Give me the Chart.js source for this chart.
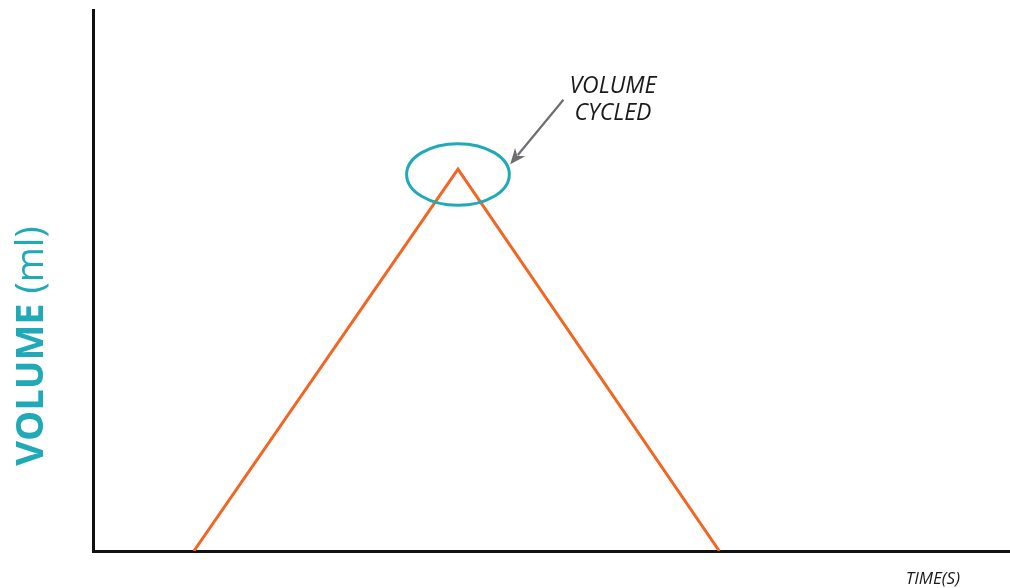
<!DOCTYPE html>
<html>
<head>
<meta charset="utf-8">
<script src="https://cdn.jsdelivr.net/npm/chart.js@4/dist/chart.umd.min.js"></script>
<style>
  html, body { margin: 0; padding: 0; background: #fff; }
  #wrap { width: 1010px; height: 588px; position: relative; }
</style>
</head>
<body>
<div id="wrap"><canvas id="chart"></canvas></div>
<script>
// data (time in s, volume in ml - arbitrary units)
const times = [1.1, 3.98, 6.83];
const volumes = [0, 7.06, 0];
const xMax = 10;
const yMax = 10;

// annotation: ellipse around the peak and the arrow pointing at it
const cycledCenter = { x: 3.98, y: 6.96 };
const cycledRadius = { x: 0.56, y: 0.57 };
const arrowFrom = { x: 5.13, y: 8.34 };
const arrowTo = { x: 4.55, y: 7.15 };
const noteLines = ['VOLUME', 'CYCLED'];
const notePos = { x: 5.67, y: 8.47 };

const teal = '#20a9b6';
const orange = '#f26522';

const annotations = {
  id: 'annotations',
  afterDraw(chart) {
    const { ctx, scales: { x, y } } = chart;
    ctx.save();

    // ellipse
    ctx.strokeStyle = teal;
    ctx.lineWidth = 3;
    ctx.beginPath();
    const cx = x.getPixelForValue(cycledCenter.x);
    const cy = y.getPixelForValue(cycledCenter.y);
    const rx = x.getPixelForValue(cycledCenter.x + cycledRadius.x) - cx;
    const ry = cy - y.getPixelForValue(cycledCenter.y + cycledRadius.y);
    ctx.ellipse(cx, cy, rx, ry, 0, 0, Math.PI * 2);
    ctx.stroke();

    // arrow
    const x1 = x.getPixelForValue(arrowFrom.x), y1 = y.getPixelForValue(arrowFrom.y);
    const x2 = x.getPixelForValue(arrowTo.x), y2 = y.getPixelForValue(arrowTo.y);
    const ang = Math.atan2(y2 - y1, x2 - x1);
    const head = 17;
    ctx.strokeStyle = '#6d6e71';
    ctx.fillStyle = '#6d6e71';
    ctx.lineWidth = 2.2;
    ctx.beginPath();
    ctx.moveTo(x1, y1);
    ctx.lineTo(x2 - Math.cos(ang) * head * 0.7, y2 - Math.sin(ang) * head * 0.7);
    ctx.stroke();
    ctx.beginPath();
    ctx.moveTo(x2, y2);
    ctx.lineTo(x2 - head * Math.cos(ang - 0.4), y2 - head * Math.sin(ang - 0.4));
    ctx.lineTo(x2 - head * 0.65 * Math.cos(ang), y2 - head * 0.65 * Math.sin(ang));
    ctx.lineTo(x2 - head * Math.cos(ang + 0.4), y2 - head * Math.sin(ang + 0.4));
    ctx.closePath();
    ctx.fill();

    // note text
    ctx.fillStyle = '#1a1a1a';
    ctx.font = 'italic 23px "Open Sans"';
    ctx.textAlign = 'center';
    ctx.textBaseline = 'alphabetic';
    const nx = x.getPixelForValue(notePos.x);
    const ny = y.getPixelForValue(notePos.y);
    noteLines.forEach((t, i) => ctx.fillText(t, nx, ny + i * 27));

    // x axis label
    ctx.font = 'italic 17px "Open Sans"';
    ctx.textAlign = 'right';
    ctx.fillText('TIME(S)', 960, 584);

    // y axis label, bold + regular parts
    ctx.translate(43, 346);
    ctx.rotate(-Math.PI / 2);
    ctx.fillStyle = teal;
    ctx.textAlign = 'left';
    ctx.font = 'bold 38px "Open Sans"';
    const boldPart = 'VOLUME ';
    const w1 = ctx.measureText(boldPart).width;
    ctx.font = '38px "Open Sans"';
    const w2 = ctx.measureText('(ml)').width;
    const start = -(w1 + w2) / 2;
    ctx.font = 'bold 38px "Open Sans"';
    ctx.fillText(boldPart, start, 0);
    ctx.font = '38px "Open Sans"';
    ctx.fillText('(ml)', start + w1, 0);

    ctx.restore();
  }
};

new Chart(document.getElementById('chart'), {
  type: 'line',
  data: {
    datasets: [{
      data: times.map((t, i) => ({ x: t, y: volumes[i] })),
      borderColor: orange,
      borderWidth: 3,
      pointRadius: 0,
      tension: 0,
      fill: false
    }]
  },
  options: {
    responsive: true,
    maintainAspectRatio: false,
    animation: false,
    layout: { padding: { left: 85, top: 10, right: -3, bottom: 29 } },
    plugins: { legend: { display: false }, tooltip: { enabled: false } },
    scales: {
      x: {
        type: 'linear', min: 0, max: xMax,
        grid: { display: false },
        ticks: { display: false },
        border: { color: '#111', width: 3 }
      },
      y: {
        min: 0, max: yMax,
        grid: { display: false },
        ticks: { display: false },
        border: { color: '#111', width: 3 }
      }
    }
  },
  plugins: [annotations]
});
</script>
</body>
</html>
